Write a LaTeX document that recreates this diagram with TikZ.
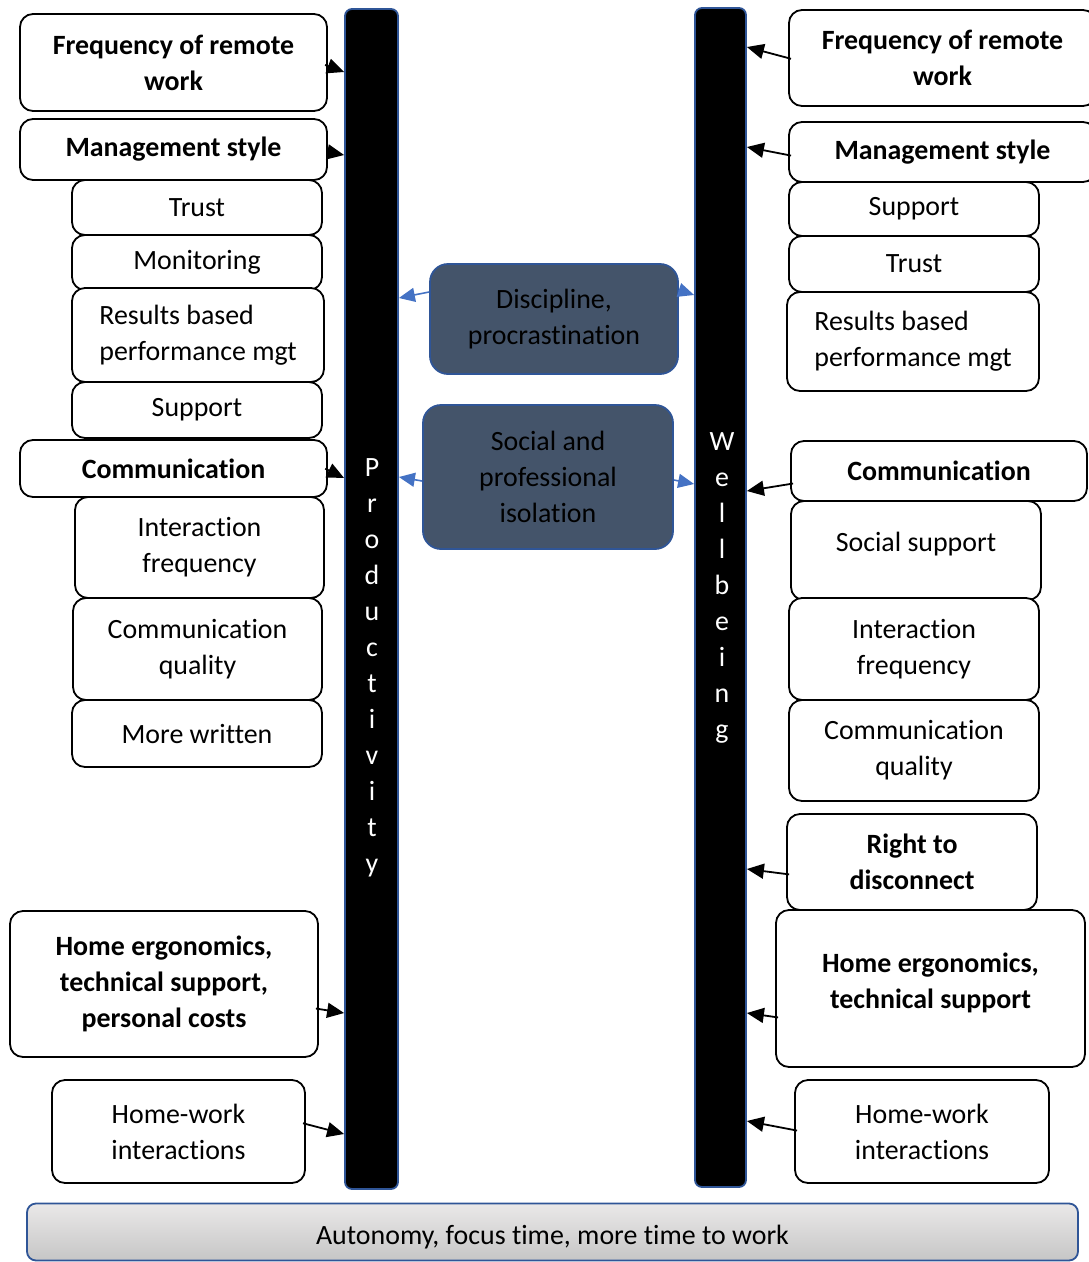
\documentclass[tikz,border=0pt]{standalone}
\usepackage{fontspec}
\setmainfont{Carlito}[Ligatures=NoCommon]
\usetikzlibrary{arrows.meta}
\definecolor{darkbox}{HTML}{44546A}
\definecolor{bluedge}{HTML}{2F5597}
\definecolor{bluearr}{HTML}{4472C4}
\definecolor{topg}{HTML}{EAE8E8}
\definecolor{botg}{HTML}{C6C6C6}
\newcommand\fs{\fontsize{27.9}{36}\selectfont}
\newcommand\bx[7]{\node[#6, minimum width={(#4)-(#2)}, minimum height={(#5)-(#3)}] (#1) at ({((#2)+(#4))/2},{((#3)+(#5))/2}) {#7};}
\tikzset{
 box/.style={draw=black, line width=1.8pt, rounded corners=13pt, fill=white, align=center, inner sep=0pt, font=\fs},
 bbox/.style={box, font=\fs\bfseries},
 lbox/.style={box, align=left},
 dark/.style={draw=bluedge, line width=1.8pt, rounded corners=18pt, fill=darkbox, align=center, inner sep=0pt, font=\fs},
 bar/.style={draw=bluedge, line width=1.8pt, rounded corners=7pt, fill=black, inner sep=0pt},
 bartext/.style={text=white, align=center, font=\fs, inner sep=0pt},
 arr/.style={-{Triangle[length=17pt,width=15pt]}, line width=1.8pt, black, shorten <=-3pt},
 barr/.style={-{Triangle[length=16pt,width=14pt]}, line width=1.6pt, bluearr},
}
\begin{document}
\begin{tikzpicture}[x=1pt,y=-1pt]
\useasboundingbox (0,0) rectangle (1089,1262);
\clip (0,0) rectangle (1089,1262);
% bars
\bx{prod}{345}{9}{398}{1189}{bar}{}
\bx{wb}{695}{8}{746}{1187}{bar}{}
\node[bartext] (prodt) at (372,668) {P\\r\\o\\d\\u\\c\\t\\i\\v\\i\\t\\y};
\node[bartext] (wbt) at (722,588) {W\\e\\l\\l\\b\\e\\i\\n\\g};
% left column
\bx{freqL}{20}{14}{327}{111}{bbox}{Frequency of remote\\work}
\bx{trustL}{72}{180}{322}{235}{box}{Trust}
\bx{mgmtL}{20}{119}{327}{180}{bbox}{Management style}
\bx{monL}{72}{235}{322}{290}{box}{Monitoring}
\bx{suppL}{72}{382}{322}{438}{box}{Support}
\bx{resL}{72}{288}{324}{382}{lbox}{Results based\\performance mgt}
\bx{intL}{75}{497}{324}{598}{box}{Interaction\\frequency}
\bx{commL}{20}{440}{327}{497}{bbox}{Communication}
\bx{cqL}{73}{598}{322}{700}{box}{Communication\\quality}
\bx{mwL}{72}{700}{322}{767}{box}{More written}
\bx{homeL}{10}{911}{318}{1057}{bbox}{Home ergonomics,\\technical support,\\personal costs}
\bx{hwL}{52}{1080}{305}{1183}{box}{Home-work\\interactions}
% right column
\bx{freqR}{789}{10}{1096}{106}{bbox}{Frequency of remote\\work}
\bx{suppR}{789}{182}{1039}{236}{box}{Support}
\bx{mgmtR}{789}{122}{1096}{182}{bbox}{Management style}
\bx{trustR}{789}{236}{1039}{292}{box}{Trust}
\bx{resR}{787}{292}{1039}{391}{lbox}{Results based\\performance mgt}
\bx{ssR}{791}{501}{1041}{600}{box}{Social support\\[-18pt]}
\bx{commR}{791}{441}{1087}{501}{bbox}{Communication}
\bx{intR}{789}{598}{1039}{700}{box}{Interaction\\frequency}
\bx{cqR}{789}{700}{1039}{801}{box}{Communication\\quality}
\bx{rtdR}{787}{814}{1037}{910}{bbox}{Right to\\disconnect}
\bx{homeR}{776}{910}{1085}{1067}{bbox}{Home ergonomics,\\technical support\\[-20pt]}
\bx{hwR}{795}{1080}{1049}{1183}{box}{Home-work\\interactions}
% centre
\bx{disc}{430}{264}{678}{374}{dark}{Discipline,\\procrastination}
\bx{soc}{423}{405}{673}{549}{dark}{Social and\\professional\\isolation}
% bottom
\node[draw=bluedge, line width=1.8pt, rounded corners=9pt, top color=topg, bottom color=botg, minimum width=1051, minimum height=57, font=\fs, inner sep=0pt, text height=24pt, text depth=0pt] (auto) at (552.5,1232) {Autonomy, focus time, more time to work};
% left arrows
\draw[arr] (freqL.east |- 0,66) -- (prod.west |- 0,72);
\draw[arr] (mgmtL.east |- 0,152) -- (prod.west |- 0,155);
\draw[arr] (commL.east |- 0,470) -- (prod.west |- 0,478);
\draw[arr] (homeL.east |- 0,1009) -- (prod.west |- 0,1013);
\draw[arr] (hwL.east |- 0,1124) -- (prod.west |- 0,1134);
% right arrows
\draw[arr] (freqR.west |- 0,58) -- (wb.east |- 0,47);
\draw[arr] (mgmtR.west |- 0,155) -- (wb.east |- 0,147);
\draw[arr] (commR.west |- 0,484) -- (wb.east |- 0,491);
\draw[arr] (rtdR.west |- 0,874) -- (wb.east |- 0,869);
\draw[arr] (homeR.west |- 0,1017) -- (wb.east |- 0,1013);
\draw[arr] (hwR.west |- 0,1130) -- (wb.east |- 0,1121);
% blue arrows
\draw[barr] (disc.west |- 0,292) -- (prod.east |- 0,298);
\draw[barr] (disc.east |- 0,290) -- (wb.west |- 0,295);
\draw[barr] (soc.west |- 0,481) -- (prod.east |- 0,477);
\draw[barr] (soc.east |- 0,480) -- (wb.west |- 0,484);
\end{tikzpicture}
\end{document}
